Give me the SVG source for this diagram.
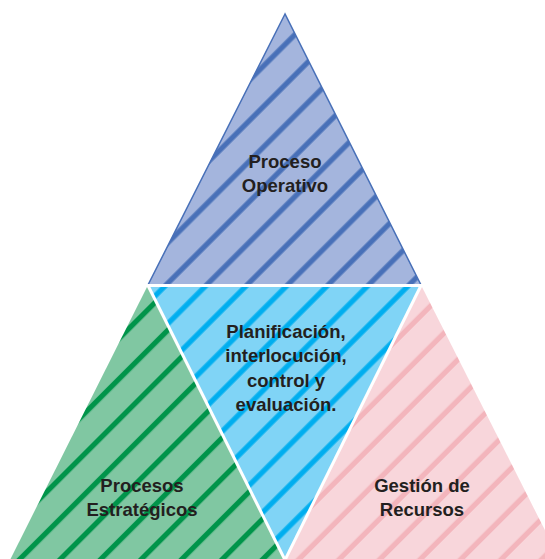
<svg xmlns="http://www.w3.org/2000/svg" width="545" height="559" viewBox="0 0 545 559">
<style>
.t{font-family:"Liberation Sans",Arial,sans-serif;font-weight:bold;font-size:18.5px;fill:#231f20;text-anchor:middle}
.sep{stroke:#ffffff;stroke-width:3;fill:none}
</style>
<defs>
<pattern id="pTop" patternUnits="userSpaceOnUse" width="28.64" height="28.64" patternTransform="rotate(45)">
<rect width="28.64" height="28.64" fill="#a4b5dd"/>
<rect x="1.3" y="0" width="5.2" height="28.64" fill="#4870b8"/>
</pattern>
<pattern id="pMid" patternUnits="userSpaceOnUse" width="28.64" height="28.64" patternTransform="rotate(45)">
<rect width="28.64" height="28.64" fill="#80d4f6"/>
<rect x="1.3" y="0" width="5.2" height="28.64" fill="#00aeef"/>
</pattern>
<pattern id="pGreen" patternUnits="userSpaceOnUse" width="28.64" height="28.64" patternTransform="rotate(45)">
<rect width="28.64" height="28.64" fill="#80c7a2"/>
<rect x="5.9" y="0" width="5.2" height="28.64" fill="#00944a"/>
</pattern>
<pattern id="pPink" patternUnits="userSpaceOnUse" width="28.64" height="28.64" patternTransform="rotate(45)">
<rect width="28.64" height="28.64" fill="#f8d6db"/>
<rect x="2.7" y="0" width="5.2" height="28.64" fill="#f3b5bc"/>
</pattern>
</defs>
<g id="proceso-operativo">
<polygon points="285,14 148,285 421,285" fill="url(#pTop)" stroke="#4870b8" stroke-width="1.5" stroke-linejoin="miter"/>
<text class="t" x="285" y="168">Proceso</text>
<text class="t" x="285" y="192">Operativo</text>
</g>
<g id="procesos-estrategicos">
<polygon points="148,285 10,560 285,560" fill="url(#pGreen)"/>
<text class="t" x="142" y="492">Procesos</text>
<text class="t" x="142" y="516">Estratégicos</text>
</g>
<g id="gestion-recursos">
<polygon points="421,285 285,560 560,560" fill="url(#pPink)"/>
<text class="t" x="422" y="492">Gestión de</text>
<text class="t" x="422" y="516">Recursos</text>
</g>
<g id="planificacion">
<polygon points="148,285 421,285 285,560" fill="url(#pMid)"/>
<text class="t" x="286" y="338">Planificación,</text>
<text class="t" x="286" y="362">interlocución,</text>
<text class="t" x="286" y="387">control y</text>
<text class="t" x="286" y="411">evaluación.</text>
</g>
<g id="connectors">
<line class="sep" x1="145" y1="285.5" x2="424" y2="285.5"/>
<line class="sep" x1="148" y1="285.5" x2="285" y2="560"/>
<line class="sep" x1="421" y1="285.5" x2="285" y2="560"/>
</g>
</svg>
